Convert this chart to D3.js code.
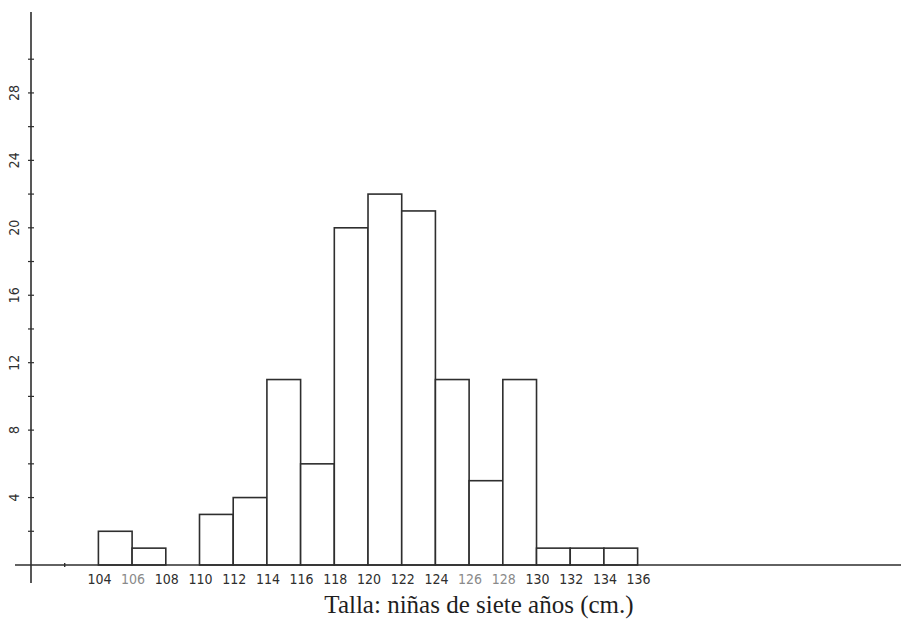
<!DOCTYPE html>
<html>
<head>
<meta charset="utf-8">
<script src="https://cdn.jsdelivr.net/npm/d3@7"></script>
<style>
  html, body { margin: 0; padding: 0; background: #fff; }
  svg { display: block; }
</style>
</head>
<body>
<svg id="chart" width="901" height="625"></svg>
<script>
// ---- data ----
const binStarts = [104, 106, 108, 110, 112, 114, 116, 118, 120, 122, 124, 126, 128, 130, 132, 134];
const binWidth = 2;
const counts    = [2, 1, 0, 3, 4, 11, 6, 20, 22, 21, 11, 5, 11, 1, 1, 1];
const xTickLabels = [104, 106, 108, 110, 112, 114, 116, 118, 120, 122, 124, 126, 128, 130, 132, 134, 136];
const xFaintLabels = [106, 126, 128];
const yTickLabels = [4, 8, 12, 16, 20, 24, 28];
const yMinorTicks = [2, 6, 10, 14, 18, 22, 26, 30];
const xMinorTicks = [102];
const title = "Talla: niñas de siete años (cm.)";

// ---- layout ----
const W = 901, H = 625;
const originX = 31, originY = 565;
const x = d3.scaleLinear().domain([100, 151.63]).range([originX, W]);
const y = d3.scaleLinear().domain([0, 32.8]).range([originY, 12]);

const svg = d3.select("#chart");
const ink = "#2e2e2e";

// bars
svg.append("g").selectAll("rect")
  .data(binStarts.map((s, i) => ({s, c: counts[i]})).filter(d => d.c > 0))
  .join("rect")
  .attr("x", d => x(d.s))
  .attr("y", d => y(d.c))
  .attr("width", d => x(d.s + binWidth) - x(d.s))
  .attr("height", d => y(0) - y(d.c))
  .attr("fill", "#fff")
  .attr("stroke", ink)
  .attr("stroke-width", 1.6);

// x axis line
svg.append("line")
  .attr("x1", 15).attr("x2", W)
  .attr("y1", y(0)).attr("y2", y(0))
  .attr("stroke", ink).attr("stroke-width", 1.4);

// y axis line
svg.append("line")
  .attr("x1", x(100)).attr("x2", x(100))
  .attr("y1", 12).attr("y2", 583)
  .attr("stroke", ink).attr("stroke-width", 1.6);

// y ticks (all even values)
const allY = yTickLabels.concat(yMinorTicks);
svg.append("g").selectAll("line")
  .data(allY)
  .join("line")
  .attr("x1", x(100) - 3).attr("x2", x(100) + 3)
  .attr("y1", d => y(d)).attr("y2", d => y(d))
  .attr("stroke", ink).attr("stroke-width", 1.2);

// x minor ticks
svg.append("g").selectAll("line")
  .data(xMinorTicks)
  .join("line")
  .attr("x1", d => x(d)).attr("x2", d => x(d))
  .attr("y1", y(0) - 2).attr("y2", y(0) + 2)
  .attr("stroke", ink).attr("stroke-width", 1.4);

// y tick labels (rotated)
svg.append("g").selectAll("text")
  .data(yTickLabels)
  .join("text")
  .attr("transform", d => `translate(${x(100) - 17},${y(d)}) rotate(-90)`)
  .attr("text-anchor", "middle")
  .attr("dominant-baseline", "central")
  .attr("font-family", "'Liberation Sans Narrow', 'DejaVu Sans Condensed', sans-serif")
  .attr("font-size", 14)
  .attr("fill", ink)
  .text(d => d);

// x tick labels
svg.append("g").selectAll("text")
  .data(xTickLabels)
  .join("text")
  .attr("x", d => x(d) + 1)
  .attr("y", y(0) + 19)
  .attr("text-anchor", "middle")
  .attr("font-family", "'Liberation Sans Narrow', 'DejaVu Sans Condensed', sans-serif")
  .attr("font-size", 14)
  .attr("fill", d => xFaintLabels.includes(d) ? "#8a8a8a" : ink)
  .text(d => d);

// title
svg.append("text")
  .attr("x", 479)
  .attr("y", 613)
  .attr("text-anchor", "middle")
  .attr("font-family", "'Liberation Serif', 'DejaVu Serif', serif")
  .attr("font-size", 25)
  .attr("fill", "#1e1e1e")
  .text(title);
</script>
</body>
</html>
